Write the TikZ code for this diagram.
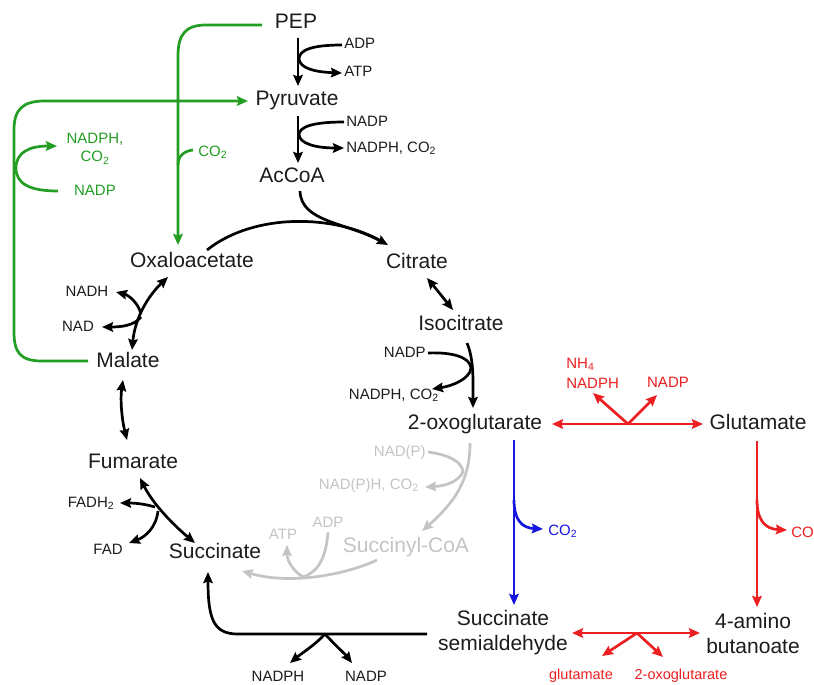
\documentclass[tikz,border=0pt]{standalone}
\usepackage{fontspec}
\setmainfont{Liberation Sans}
\usetikzlibrary{arrows.meta}
\definecolor{cgreen}{RGB}{35,158,35}
\definecolor{cred}{RGB}{236,32,32}
\definecolor{cblue}{RGB}{22,22,226}
\definecolor{cgrey}{RGB}{196,196,196}
\definecolor{ctext}{RGB}{28,28,28}
\begin{document}
\begin{tikzpicture}[x=1pt,y=-1pt,line width=2.7pt,
  tip/.tip={Stealth[length=11pt,width=9.5pt,inset=1.5pt]},
  arr/.style={-tip},
  darr/.style={tip-tip},
  big/.style={font=\fontsize{21}{25}\selectfont,text=ctext,inner sep=1pt,text height=15pt,text depth=4pt},
  bigm/.style={font=\fontsize{21}{25}\selectfont,text=ctext,inner sep=1pt,align=center},
  sm/.style={font=\fontsize{15}{18}\selectfont,text=ctext,inner sep=1pt,text height=11pt,text depth=3pt},
  smm/.style={font=\fontsize{15}{18}\selectfont,inner sep=1pt},
  ]
\useasboundingbox[fill=white] (0,0) rectangle (814,685);

% ---------- nodes ----------
\node[big] (PEP) at (296,23) {PEP};
\node[sm,anchor=west] (ADP1) at (342,45) {ADP};
\node[sm,anchor=west] (ATP1) at (342,73) {ATP};
\node[big] (Pyr) at (297,100) {Pyruvate};
\node[sm,anchor=west] (NADP1) at (344,122) {NADP};
\node[sm,anchor=west] (NADPH1) at (344,148) {NADPH, CO\textsubscript{2}};
\node[big] (AcCoA) at (292,177) {AcCoA};
\node[big] (Cit) at (417,263) {Citrate};
\node[big] (Iso) at (461,325) {Isocitrate};
\node[sm,anchor=east] (NADP2) at (428,353) {NADP};
\node[sm,anchor=east] (NADPH2) at (441,395) {NADPH, CO\textsubscript{2}};
\node[big] (Oxo) at (475,424) {2-oxoglutarate};
\node[sm,text=cgrey,anchor=east] (NADP3) at (428,452) {NAD(P)};
\node[sm,text=cgrey,anchor=east] (NADPH3) at (421,485) {NAD(P)H, CO\textsubscript{2}};
\node[big,text=cgrey] (SucCoA) at (406,547) {Succinyl-CoA};
\node[sm,text=cgrey] (ATP2) at (283,535) {ATP};
\node[sm,text=cgrey] (ADP2) at (328,523) {ADP};
\node[big] (Suc) at (215,553) {Succinate};
\node[sm] (FADH) at (91,503) {FADH\textsubscript{2}};
\node[sm] (FAD) at (108,550) {FAD};
\node[big] (Fum) at (133,463) {Fumarate};
\node[big] (Mal) at (128,362) {Malate};
\node[sm] (NADH) at (87,292) {NADH};
\node[sm] (NAD) at (78,327) {NAD};
\node[big] (OAA) at (192,262) {Oxaloacetate};
\node[sm] (NADPH4) at (278,677) {NADPH};
\node[sm] (NADP4) at (366,677) {NADP};
\node[bigm] (SSA) at (503,633) {Succinate\\semialdehyde};
\node[bigm] (GABA) at (753,633) {4-amino\\butanoate};
\node[big] (Glu) at (758,424) {Glutamate};
\node[smm,text=cred,align=left,anchor=west,font=\fontsize{15}{20}\selectfont] (NH4) at (564,373) {NH\textsubscript{4}\\NADPH};
\node[sm,text=cred] (NADP5) at (668,383) {NADP};
\node[sm,text=cred,font=\fontsize{14.5}{17}\selectfont] (glu2) at (581,675) {glutamate};
\node[sm,text=cred,font=\fontsize{14.5}{17}\selectfont] (og2) at (681,675) {2-oxoglutarate};
\node[sm,text=cblue,anchor=west] (CO2b) at (546,531) {CO\textsubscript{2}};
\node[sm,text=cred,anchor=west] (CO2r) at (789,533) {CO\textsubscript{2}};
\node[smm,text=cgreen,align=center] (NADPHg) at (95,149) {NADPH,\\CO\textsubscript{2}};
\node[sm,text=cgreen] (NADPg) at (95,191) {NADP};
\node[sm,text=cgreen,anchor=west] (CO2g) at (196,152) {CO\textsubscript{2}};

% ---------- junction coordinates ----------
\coordinate (j1) at (299,59);
\coordinate (j2) at (299,135);
\coordinate (j3) at (471,368);
\coordinate (j4) at (463,472);
\coordinate (j5) at (303,577);
\coordinate (j6) at (325,634);
\coordinate (j7) at (141,314);
\coordinate (j8) at (158,511);
\coordinate (j9) at (628,424);
\coordinate (j10) at (637,633);
\coordinate (j11) at (514,500);
\coordinate (j12) at (757,500);
\coordinate (j13) at (178,165);

% ---------- black pathway ----------
\draw[arr] (298,38) -- (298,86);
\draw[arr] (ADP1.west) .. controls (312,45) and (299,50) .. (j1)
  .. controls (300,68) and (314,72) .. (ATP1.west);
\draw[arr] (298,116) -- (298,163);
\draw[arr] (NADP1.west) .. controls (312,122) and (299,127) .. (j2)
  .. controls (300,143) and (314,148) .. (NADPH1.west);
\draw[shorten >=9pt] (300,191) .. controls (301,222) and (345,222) .. (388,245);
\draw[arr] (207,250) .. controls (255,212) and (335,215) .. (388,245);
\draw[darr] (427,278) .. controls (437,290) and (445,300) .. (453,310);
\draw[arr] (467,343) .. controls (474,360) and (473,380) .. (473,408);
\draw[arr] (NADP2.east) .. controls (452,352) and (470,357) .. (j3)
  .. controls (470,379) and (452,386) .. (432,389);
\draw[darr] (168,277) .. controls (148,296) and (135,318) .. (132,350);
\draw[arr] (j7) .. controls (138,302) and (128,295) .. (116,292);
\draw[arr] ([yshift=-3pt]j7) .. controls (134,326) and (120,327) .. (102,327);
\draw[darr] (123,380) .. controls (120,400) and (122,420) .. (127,440);
\draw[darr] (140,478) .. controls (152,502) and (170,522) .. (195,543);
\draw[arr] (155,507) .. controls (145,504) and (135,503) .. (120,503);
\draw[arr] (j8) .. controls (156,528) and (145,537) .. (129,543);
\draw[arr] (427,634) -- (238,634) .. controls (214,634) and (208,620) .. (208,572);
\draw[arr] (j6) .. controls (315,645) and (302,653) .. (290,663);
\draw[arr] (j6) .. controls (335,645) and (345,654) .. (352,663);

% ---------- grey ----------
\begin{scope}[draw=cgrey,color=cgrey]
\draw[arr] (470,443) .. controls (470,480) and (455,502) .. (422,531);
\draw[arr] (NADP3.east) .. controls (450,455) and (462,462) .. (j4)
  .. controls (458,482) and (445,486) .. (425,487);
\draw[arr] (377,560) .. controls (345,575) and (290,585) .. (242,571);
\draw (ADP2.south) .. controls (326,558) and (318,572) .. (j5);
\draw[arr] (j5) .. controls (292,570) and (287,560) .. (287,545);
\end{scope}

% ---------- green ----------
\begin{scope}[draw=cgreen,color=cgreen]
\draw[arr] (262,25) -- (206,25) .. controls (185,25) and (178,35) .. (178,56) -- (178,245);
\draw (j13) .. controls (178,155) and (185,151) .. (193,150);
\draw[arr] (88,361) -- (42,361) .. controls (20,361) and (14,352) .. (14,332) -- (14,130)
  .. controls (14,110) and (22,101) .. (45,101) -- (248,101);
\draw[arr] (58,191) .. controls (30,191) and (16,184) .. (16,168)
  .. controls (16,152) and (30,146) .. (57,146);
\end{scope}

% ---------- red / blue ----------
\begin{scope}[draw=cred,color=cred]
\draw[darr] (552,424) -- (703,424);
\draw[arr] (j9) -- (593,393);
\draw[arr] (j9) -- (657,395);
\draw[arr] (757,441) -- (757,607);
\draw[arr] (j12) .. controls (757,520) and (765,529) .. (787,530);
\draw[darr] (572,633) -- (700,633);
\draw[arr] (j10) -- (602,656);
\draw[arr] (j10) -- (663,657);
\end{scope}
\begin{scope}[draw=cblue,color=cblue]
\draw[arr] (514,440) -- (514,605);
\draw[arr] (j11) .. controls (514,520) and (522,528) .. (543,529);
\end{scope}
\end{tikzpicture}
\end{document}
